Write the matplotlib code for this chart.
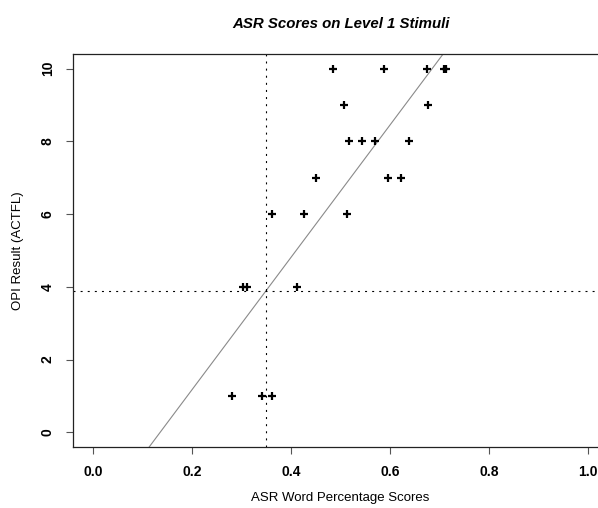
import matplotlib
matplotlib.use("Agg")
import matplotlib.pyplot as plt
from matplotlib.ticker import FormatStrFormatter

plt.rcParams["font.family"] = ["Liberation Sans", "DejaVu Sans"]

# ASR word percentage score vs OPI result
asr_scores = [0.484, 0.587, 0.675, 0.708, 0.713,
              0.508, 0.676,
              0.518, 0.543, 0.570, 0.638,
              0.451, 0.596, 0.622,
              0.362, 0.426, 0.514,
              0.303, 0.311, 0.412,
              0.281, 0.341, 0.362]
opi_results = [10, 10, 10, 10, 10,
               9, 9,
               8, 8, 8, 8,
               7, 7, 7,
               6, 6, 6,
               4, 4, 4,
               1, 1, 1]

fit_slope = 18.2
fit_intercept = -2.47
asr_cutoff = 0.35
opi_cutoff = 3.9

x_ticks = [0.0, 0.2, 0.4, 0.6, 0.8, 1.0]
y_ticks = [0, 2, 4, 6, 8, 10]

W, H = 598, 508
fig = plt.figure(figsize=(W / 100, H / 100), dpi=100)
ax = fig.add_axes([73 / W, (H - 447) / H, (608 - 73) / W, (447 - 54) / H])

ax.scatter(
    asr_scores,
    opi_results,
    marker="+",
    s=26,
    linewidths=1.6,
    color="black",
    zorder=3
)

ax.axline(
    (0, fit_intercept),
    slope=fit_slope,
    color="#8a8a8a",
    linewidth=0.8
)

ax.axvline(asr_cutoff, color="black", linewidth=0.8,
           linestyle=(0, (1.8, 4.6)))
ax.axhline(opi_cutoff, color="black", linewidth=0.8,
           linestyle=(0, (1.8, 4.6)))

ax.set_xlim(-0.04, 1.04)
ax.set_ylim(-0.4, 10.4)
ax.set_xticks(x_ticks)
ax.set_yticks(y_ticks)
ax.xaxis.set_major_formatter(FormatStrFormatter("%.1f"))

for side in ["left", "top", "bottom", "right"]:
    ax.spines[side].set_linewidth(0.9)
    ax.spines[side].set_color("#222222")

ax.tick_params(
    direction="out",
    length=5,
    width=0.8,
    color="#555555",
    pad=8,
    labelsize=10
)
for lab in ax.get_xticklabels() + ax.get_yticklabels():
    lab.set_fontweight("bold")
for lab in ax.get_yticklabels():
    lab.set_rotation(90)
    lab.set_va("center")

ax.set_xlabel("ASR Word Percentage Scores", fontsize=9.5)
ax.xaxis.set_label_coords(0.5, (447 - 498) / 393)
ax.xaxis.label.set_va("center")

ax.set_ylabel("OPI Result (ACTFL)", fontsize=9.5)
ax.yaxis.set_label_coords((18 - 73) / 535, 0.5)
ax.yaxis.label.set_va("center")

fig.text(
    340.5 / W,
    (H - 28) / H,
    "ASR Scores on Level 1 Stimuli",
    ha="center",
    va="baseline",
    fontsize=10.8,
    fontweight="bold",
    fontstyle="italic"
)

fig.savefig("out.png", dpi=100)
